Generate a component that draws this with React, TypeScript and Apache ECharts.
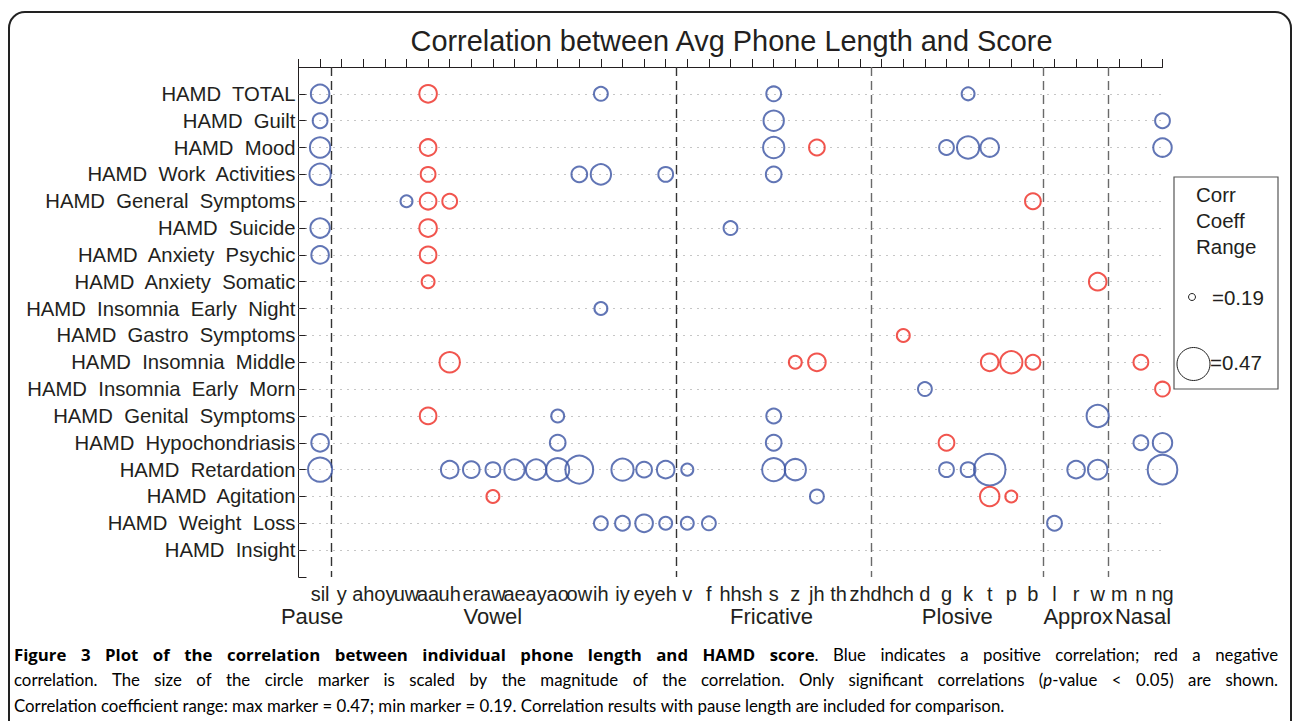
import React, { useEffect, useRef } from 'react';
import * as echarts from 'echarts';

const chartTitle = 'Correlation between Avg Phone Length and Score';

const phones = ['sil', 'y', 'ah', 'oy', 'uw', 'aa', 'uh', 'er', 'aw', 'ae', 'ay', 'ao', 'ow', 'ih', 'iy', 'ey', 'eh',
  'v', 'f', 'hh', 'sh', 's', 'z', 'jh', 'th', 'zh', 'dh', 'ch', 'd', 'g', 'k', 't', 'p', 'b', 'l', 'r', 'w', 'm', 'n', 'ng'];

const hamdItems = ['HAMD  TOTAL', 'HAMD  Guilt', 'HAMD  Mood', 'HAMD  Work  Activities', 'HAMD  General  Symptoms',
  'HAMD  Suicide', 'HAMD  Anxiety  Psychic', 'HAMD  Anxiety  Somatic', 'HAMD  Insomnia  Early  Night',
  'HAMD  Gastro  Symptoms', 'HAMD  Insomnia  Middle', 'HAMD  Insomnia  Early  Morn', 'HAMD  Genital  Symptoms',
  'HAMD  Hypochondriasis', 'HAMD  Retardation', 'HAMD  Agitation', 'HAMD  Weight  Loss', 'HAMD  Insight'];

// correlation coefficients (positive = blue, negative = red)
const corrTotal: [string, number][] = [['sil', 0.33], ['aa', -0.32], ['ih', 0.28], ['s', 0.29], ['k', 0.27]];
const corrGuilt: [string, number][] = [['sil', 0.29], ['s', 0.35], ['ng', 0.29]];
const corrMood: [string, number][] = [['sil', 0.35], ['aa', -0.31], ['s', 0.36], ['jh', -0.30], ['g', 0.29], ['k', 0.37], ['t', 0.33], ['ng', 0.33]];
const corrWork: [string, number][] = [['sil', 0.36], ['aa', -0.29], ['ow', 0.30], ['ih', 0.35], ['eh', 0.29], ['s', 0.30]];
const corrGeneral: [string, number][] = [['uw', 0.26], ['aa', -0.31], ['uh', -0.29], ['b', -0.30]];
const corrSuicide: [string, number][] = [['sil', 0.34], ['aa', -0.32], ['hh', 0.28]];
const corrAnxPsychic: [string, number][] = [['sil', 0.32], ['aa', -0.31]];
const corrAnxSomatic: [string, number][] = [['aa', -0.27], ['w', -0.32]];
const corrInsEarlyNight: [string, number][] = [['ih', 0.27]];
const corrGastro: [string, number][] = [['ch', -0.27]];
const corrInsMiddle: [string, number][] = [['uh', -0.35], ['z', -0.27], ['jh', -0.32], ['t', -0.32], ['p', -0.37], ['b', -0.29], ['n', -0.29]];
const corrInsEarlyMorn: [string, number][] = [['d', 0.28], ['ng', -0.29]];
const corrGenital: [string, number][] = [['aa', -0.31], ['ao', 0.27], ['s', 0.29], ['w', 0.37]];
const corrHypo: [string, number][] = [['sil', 0.32], ['ao', 0.30], ['s', 0.30], ['g', -0.30], ['n', 0.29], ['ng', 0.34]];
const corrRetardation: [string, number][] = [['sil', 0.39], ['uh', 0.32], ['er', 0.31], ['aw', 0.29], ['ae', 0.35], ['ay', 0.35],
  ['ao', 0.38], ['ow', 0.43], ['iy', 0.37], ['ey', 0.30], ['eh', 0.32], ['v', 0.26], ['s', 0.38], ['z', 0.36], ['g', 0.29],
  ['k', 0.29], ['t', 0.47], ['r', 0.32], ['w', 0.34], ['ng', 0.45]];
const corrAgitation: [string, number][] = [['aw', -0.27], ['jh', 0.28], ['t', -0.34], ['p', -0.26]];
const corrWeightLoss: [string, number][] = [['ih', 0.28], ['iy', 0.29], ['ey', 0.32], ['eh', 0.27], ['v', 0.27], ['f', 0.28], ['l', 0.29]];
const corrInsight: [string, number][] = [];

const rowData = [corrTotal, corrGuilt, corrMood, corrWork, corrGeneral, corrSuicide, corrAnxPsychic, corrAnxSomatic,
  corrInsEarlyNight, corrGastro, corrInsMiddle, corrInsEarlyMorn, corrGenital, corrHypo, corrRetardation, corrAgitation,
  corrWeightLoss, corrInsight];

// boundaries between phone classes (between phone positions)
const groupSeparators = [1.5, 17.5, 26.5, 34.5, 37.5];
const phoneGroups: [string, number][] = [['Pause', 0.63], ['Vowel', 9.0], ['Fricative', 21.9], ['Plosive', 30.5], ['Approx', 36.1], ['Nasal', 39.1]];
const legendValues = [0.19, 0.47];

const captionLines: [string, string][][] = [
  [['b', 'Figure 3 Plot of the correlation between individual phone length and HAMD score'], ['n', '. Blue indicates a positive correlation; red a negative']],
  [['n', 'correlation. The size of the circle marker is scaled by the magnitude of the correlation. Only significant correlations ('], ['i', 'p'], ['n', '-value < 0.05) are shown.']],
  [['n', 'Correlation coefficient range: max marker = 0.47; min marker = 0.19. Correlation results with pause length are included for comparison.']],
];
const captionJustify = [true, true, false];

const BLUE = '#3a52a3';
const RED = '#ee2b22';
const TXT = '#231f20';
const FONT = '"Liberation Sans", Arial, Helvetica, sans-serif';
const CAP_FONT = 'Lato, "Open Sans", sans-serif';
const CAP_BOLD_FONT = '"Open Sans", Lato, sans-serif';
const CAP_SIZE = 16.8;

const sizeFn = (r: number) => 5.5 + ((Math.abs(r) - 0.19) / 0.28) * 26;

const capFont = (st: string) =>
  `${st === 'i' ? 'italic' : 'normal'} ${st === 'b' ? 'bold' : 'normal'} ${CAP_SIZE}px ${st === 'b' ? CAP_BOLD_FONT : CAP_FONT}`;

export default function App() {
  const ref = useRef<HTMLDivElement>(null);
  useEffect(() => {
    if (!ref.current) return;
    const chart = echarts.init(ref.current, undefined, { renderer: 'svg' });
    const points = rowData.flatMap((row, i) => row.map(([ph, r]) => [phones.indexOf(ph) + 1, i + 1, r]));
    const pos = points.filter((p) => p[2] > 0);
    const neg = points.filter((p) => p[2] < 0);
    const circleSeries = (name: string, data: number[][], color: string) => ({
      name,
      type: 'scatter',
      data,
      symbol: 'circle',
      symbolSize: (v: number[]) => sizeFn(v[2]),
      itemStyle: { color: 'rgba(0,0,0,0)', borderColor: color, borderWidth: 2 },
      z: 5,
      silent: true,
    });
    chart.setOption({
      animation: false,
      textStyle: { fontFamily: FONT },
      grid: { left: 298.5, right: 129.5, top: 67, bottom: 144, containLabel: false },
      xAxis: {
        type: 'value', min: 0, max: 40, interval: 1,
        axisLine: { show: true, lineStyle: { color: '#231f20', width: 1 } },
        axisTick: { show: true, inside: true, length: 8, lineStyle: { color: '#231f20' } },
        splitLine: { show: false },
        axisLabel: {
          show: true, margin: 7, fontSize: 20, lineHeight: 20, color: TXT, fontFamily: FONT, hideOverlap: false,
          showMinLabel: true, showMaxLabel: true,
          formatter: (v: number) => phones[Math.round(v) - 1] ?? '',
        },
      },
      yAxis: {
        type: 'value', min: 0, max: 19, interval: 1, inverse: true,
        axisLine: { show: true, lineStyle: { color: '#231f20', width: 1 } },
        axisTick: { show: true, inside: true, length: 8, lineStyle: { color: '#231f20' } },
        splitLine: { show: false },
        axisLabel: {
          show: true, margin: 3, fontSize: 20.3, color: TXT, fontFamily: FONT, hideOverlap: false,
          formatter: (v: number) => hamdItems[Math.round(v) - 1] ?? '',
        },
      },
      series: [
        {
          name: 'guides', type: 'scatter', data: [], silent: true, z: 1,
          markLine: {
            silent: true, symbol: ['none', 'none'], label: { show: false }, animation: false,
            data: [
              ...hamdItems.map((_, i) => ({ yAxis: i + 1, lineStyle: { color: '#8c8c8c', width: 1, type: [1, 6] } })),
              ...groupSeparators.map((x, i) => ({
                xAxis: x,
                lineStyle: { color: i < 2 ? '#333' : '#6a6a6a', width: 1.4, type: [9, 5] },
              })),
            ],
          },
        },
        circleSeries('positive', pos, BLUE),
        circleSeries('negative', neg, RED),
      ],
    });

    const toX = (v: number) => chart.convertToPixel({ xAxisIndex: 0 }, v) as number;

    // caption layout (justified like the journal page)
    const ctx = document.createElement('canvas').getContext('2d') as CanvasRenderingContext2D;
    const measure = (st: string, t: string) => { ctx.font = capFont(st); return ctx.measureText(t).width; };
    const capLeft = 14;
    const capRight = 1278;
    const richStyles = {
      b: { fontFamily: CAP_BOLD_FONT, fontSize: CAP_SIZE, fontWeight: 'bold', color: '#1d2b2b' },
      n: { fontFamily: CAP_FONT, fontSize: CAP_SIZE, fontWeight: 'normal', color: '#283434' },
      i: { fontFamily: CAP_FONT, fontSize: CAP_SIZE, fontStyle: 'italic', color: '#283434' },
    };
    const captionGraphics: any[] = [];
    captionLines.forEach((line, li) => {
      const words: [string, string][][] = [];
      let cur: [string, string][] = [];
      line.forEach(([st, txt]) => {
        txt.split(' ').forEach((p, k) => {
          if (k > 0) { if (cur.length) words.push(cur); cur = []; }
          if (p) cur.push([st, p]);
        });
      });
      if (cur.length) words.push(cur);
      const widths = words.map((w) => w.reduce((s, [st, t]) => s + measure(st, t), 0));
      const total = widths.reduce((a, b) => a + b, 0);
      const gap = captionJustify[li] && words.length > 1 ? (capRight - capLeft - total) / (words.length - 1) : measure('n', ' ');
      let x = capLeft;
      words.forEach((w, wi) => {
        captionGraphics.push({
          type: 'text', x, y: 654 + li * 25.5, silent: true,
          style: {
            text: w.map(([st, t]) => `{${st}|${t}}`).join(''),
            textAlign: 'left', textVerticalAlign: 'middle', rich: richStyles,
          },
        });
        x += widths[wi] + gap;
      });
    });

    const graphics: any[] = [
      { type: 'rect', shape: { x: 9, y: 12, width: 1282, height: 800, r: 16 }, style: { fill: 'none', stroke: '#222', lineWidth: 2 }, silent: true },
      { type: 'text', x: 731.5, y: 41, style: { text: chartTitle, font: `normal 28.9px ${FONT}`, fill: TXT, textAlign: 'center', textVerticalAlign: 'middle' } },
      ...phoneGroups.map(([name, at]) => ({
        type: 'text', x: toX(at), y: 616,
        style: { text: name, font: `normal 22px ${FONT}`, fill: TXT, textAlign: 'center', textVerticalAlign: 'middle', lineHeight: 22 },
      })),
      { type: 'rect', shape: { x: 1174, y: 177, width: 104, height: 212 }, style: { fill: '#fff', stroke: '#555', lineWidth: 1.2 }, z: 10 },
      ...['Corr', 'Coeff', 'Range'].map((t, i) => ({
        type: 'text', x: 1196, y: 194 + i * 26, z: 11,
        style: { text: t, font: `normal 20.5px ${FONT}`, fill: TXT, textAlign: 'left', textVerticalAlign: 'middle' },
      })),
      ...legendValues.map((v, i) => {
        const r = (sizeFn(v) + 1.5) / 2;
        const cy = i === 0 ? 297 : 364;
        const cx = i === 0 ? 1192 : 1193.5;
        return [
          { type: 'circle', z: 11, shape: { cx, cy, r }, style: { fill: 'none', stroke: '#222', lineWidth: 1 } },
          { type: 'text', z: 11, x: i === 0 ? 1212 : 1210, y: cy - (i === 0 ? 0 : 2), style: { text: '=' + v.toFixed(2), font: `normal 20.5px ${FONT}`, fill: TXT, textAlign: 'left', textVerticalAlign: 'middle' } },
        ];
      }).flat(),
      ...captionGraphics,
    ];
    chart.setOption({ graphic: graphics });
    return () => chart.dispose();
  }, []);
  return <div ref={ref} style={{ position: 'absolute', left: 0, top: 0, width: 1292, height: 721, background: '#fff' }} />;
}
